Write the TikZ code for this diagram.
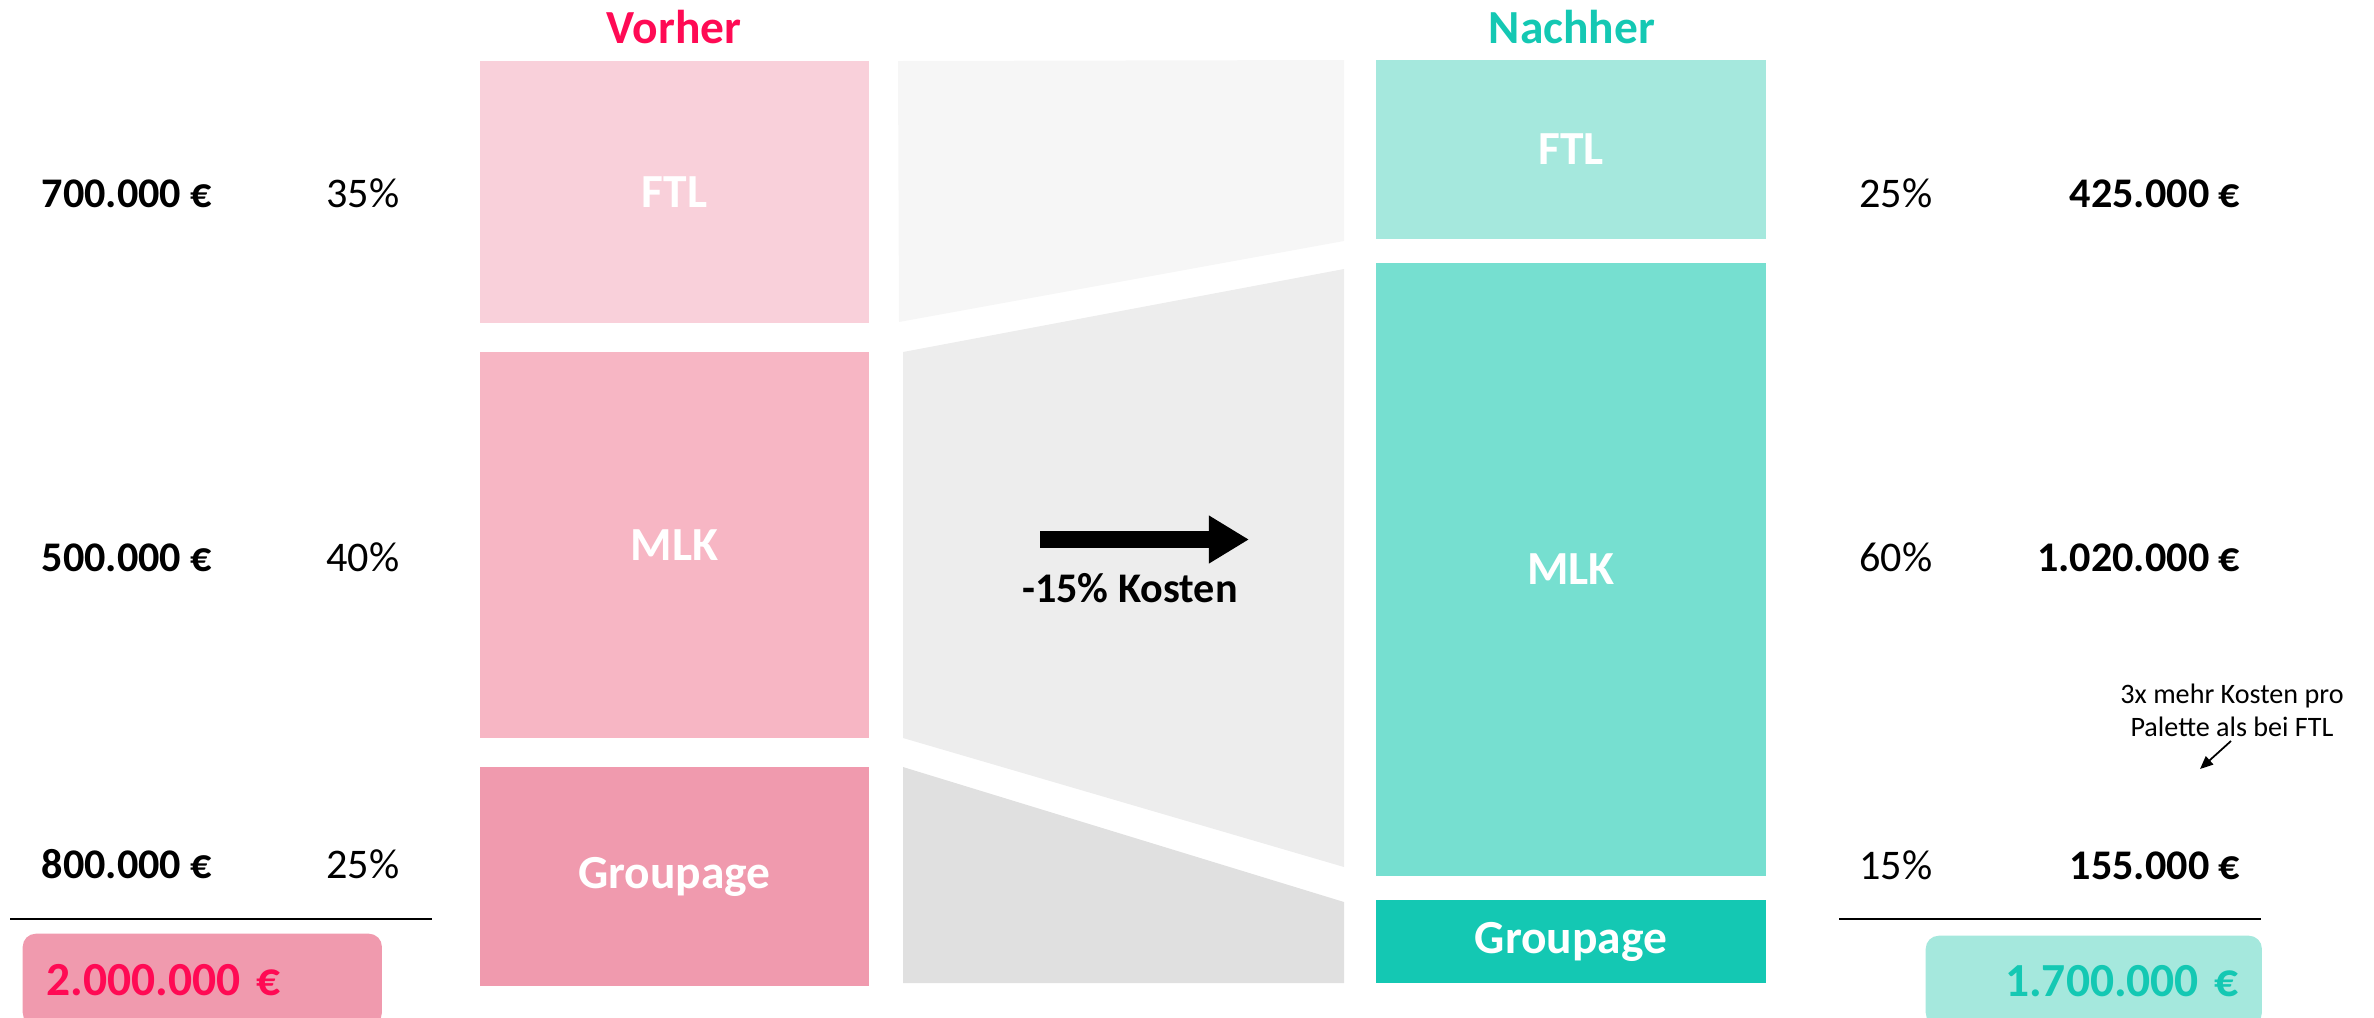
\documentclass[tikz,border=0pt]{standalone}
\usepackage{fontspec}
\setmainfont{Carlito}
\usepackage{xcolor}
\usetikzlibrary{arrows.meta}

\definecolor{vorher}{HTML}{FF0A54}
\definecolor{nachher}{HTML}{14C8B3}
\definecolor{ftlA}{HTML}{F9D0DA}
\definecolor{mlkA}{HTML}{F7B6C4}
\definecolor{grpA}{HTML}{F09AAE}
\definecolor{ftlB}{HTML}{A5E8DD}
\definecolor{mlkB}{HTML}{76DFD0}
\definecolor{grpB}{HTML}{14C8B3}
\definecolor{flowA}{HTML}{F6F6F6}
\definecolor{flowB}{HTML}{EDEDED}
\definecolor{flowC}{HTML}{E0E0E0}

\tikzset{
  bar/.style={inner sep=0pt, outer sep=0pt, text=white, font=\bfseries\fontsize{13.5}{16}\selectfont},
  head/.style={inner sep=0pt, font=\bfseries\fontsize{13.5}{16}\selectfont},
  amount/.style={inner sep=0pt, font=\bfseries\fontsize{12}{14}\selectfont},
  share/.style={inner sep=0pt, anchor=base, font=\fontsize{12}{14}\selectfont},
  sum/.style={inner ysep=0pt, rounded corners=0.13cm, font=\bfseries\fontsize{13.5}{16}\selectfont},
  note/.style={inner sep=0pt, align=center, font=\fontsize{8}{9.4}\selectfont}
}

\begin{document}
\begin{tikzpicture}[x=0.01cm, y=-0.01cm]
  \useasboundingbox (0,0) rectangle (2374,1017);

  % flows
  \fill[flowA] (898,61) -- (1344,60) -- (1344,241) -- (899,322) -- cycle;
  \fill[flowB] (903,352) -- (1344,269) -- (1344,867) -- (903,738) -- cycle;
  \fill[flowC] (903,767) -- (1344,902) -- (1344,983) -- (903,983) -- cycle;

  % vorher
  \node[head, text=vorher] (hdA) at (674,27) {Vorher};
  \node[bar, fill=ftlA, minimum width=3.89cm, minimum height=2.62cm] (ftlA) at (674.5,192) {FTL};
  \node[bar, fill=mlkA, minimum width=3.89cm, minimum height=3.86cm] (mlkA) at (674.5,545) {MLK};
  \node[bar, fill=grpA, minimum width=3.89cm, minimum height=2.19cm] (grpA) at (674.5,876.5) {Groupage};

  % nachher
  \node[head, text=nachher] (hdB) at (1572,27) {Nachher};
  \node[bar, fill=ftlB, minimum width=3.90cm, minimum height=1.79cm] (ftlB) at (1571,149.5) {FTL};
  \node[bar, fill=mlkB, minimum width=3.90cm, minimum height=6.13cm] (mlkB) at (1571,569.5) {MLK};
  \node[bar, fill=grpB, minimum width=3.90cm, minimum height=0.83cm] (grpB) at (1571,941.5) {Groupage};

  \node[amount, anchor=base west] (costA1) at (41,207) {700.000 €};
  \node[amount, anchor=base west] (costA2) at (41,571) {500.000 €};
  \node[amount, anchor=base west] (costA3) at (41,878) {800.000 €};
  \node[share] (shareA1) at (363,207) {35\%};
  \node[share] (shareA2) at (363,571) {40\%};
  \node[share] (shareA3) at (363,878) {25\%};

  \node[share] (shareB1) at (1896,207) {25\%};
  \node[share] (shareB2) at (1896,571) {60\%};
  \node[share] (shareB3) at (1896,879) {15\%};
  \node[amount, anchor=base east] (costB1) at (2241,207) {425.000 €};
  \node[amount, anchor=base east] (costB2) at (2241,571) {1.020.000 €};
  \node[amount, anchor=base east] (costB3) at (2241,879) {155.000 €};

  % arrow
  \coordinate (arrS) at (1040,539.5);
  \coordinate (arrE) at (1249,539.5);
  \draw[line width=0.17cm, -{Triangle[length=0.40cm 0, width=0.45cm 0]}] (arrS) -- (arrE);
  \node[amount, anchor=base] (cut) at (1130,602) {-15\% Kosten};

  \node[note] (hint) at (2232,710) {3x mehr Kosten pro\\Palette als bei FTL};
  \coordinate (hintS) at (2231,741);
  \coordinate (hintE) at (2200,769);
  \draw[line width=0.5pt, -{Triangle[length=0.13cm 0, width=0.11cm 0]}] (hintS) -- (hintE);

  % totals
  \draw[line width=0.6pt] (10,919) -- (432,919);
  \draw[line width=0.6pt] (1839,919) -- (2261,919);
  \node[sum, fill=grpA, text=vorher, anchor=north west, text width=3.11cm, inner xsep=0.24cm,
        minimum height=0.92cm, align=left] (sumA) at (22,933) {2.000.000 €};
  \node[sum, fill=ftlB, text=nachher, anchor=north west, text width=2.90cm, inner xsep=0.23cm,
        minimum height=0.90cm, align=right] (sumB) at (1925,935) {1.700.000 €};
\end{tikzpicture}
\end{document}
